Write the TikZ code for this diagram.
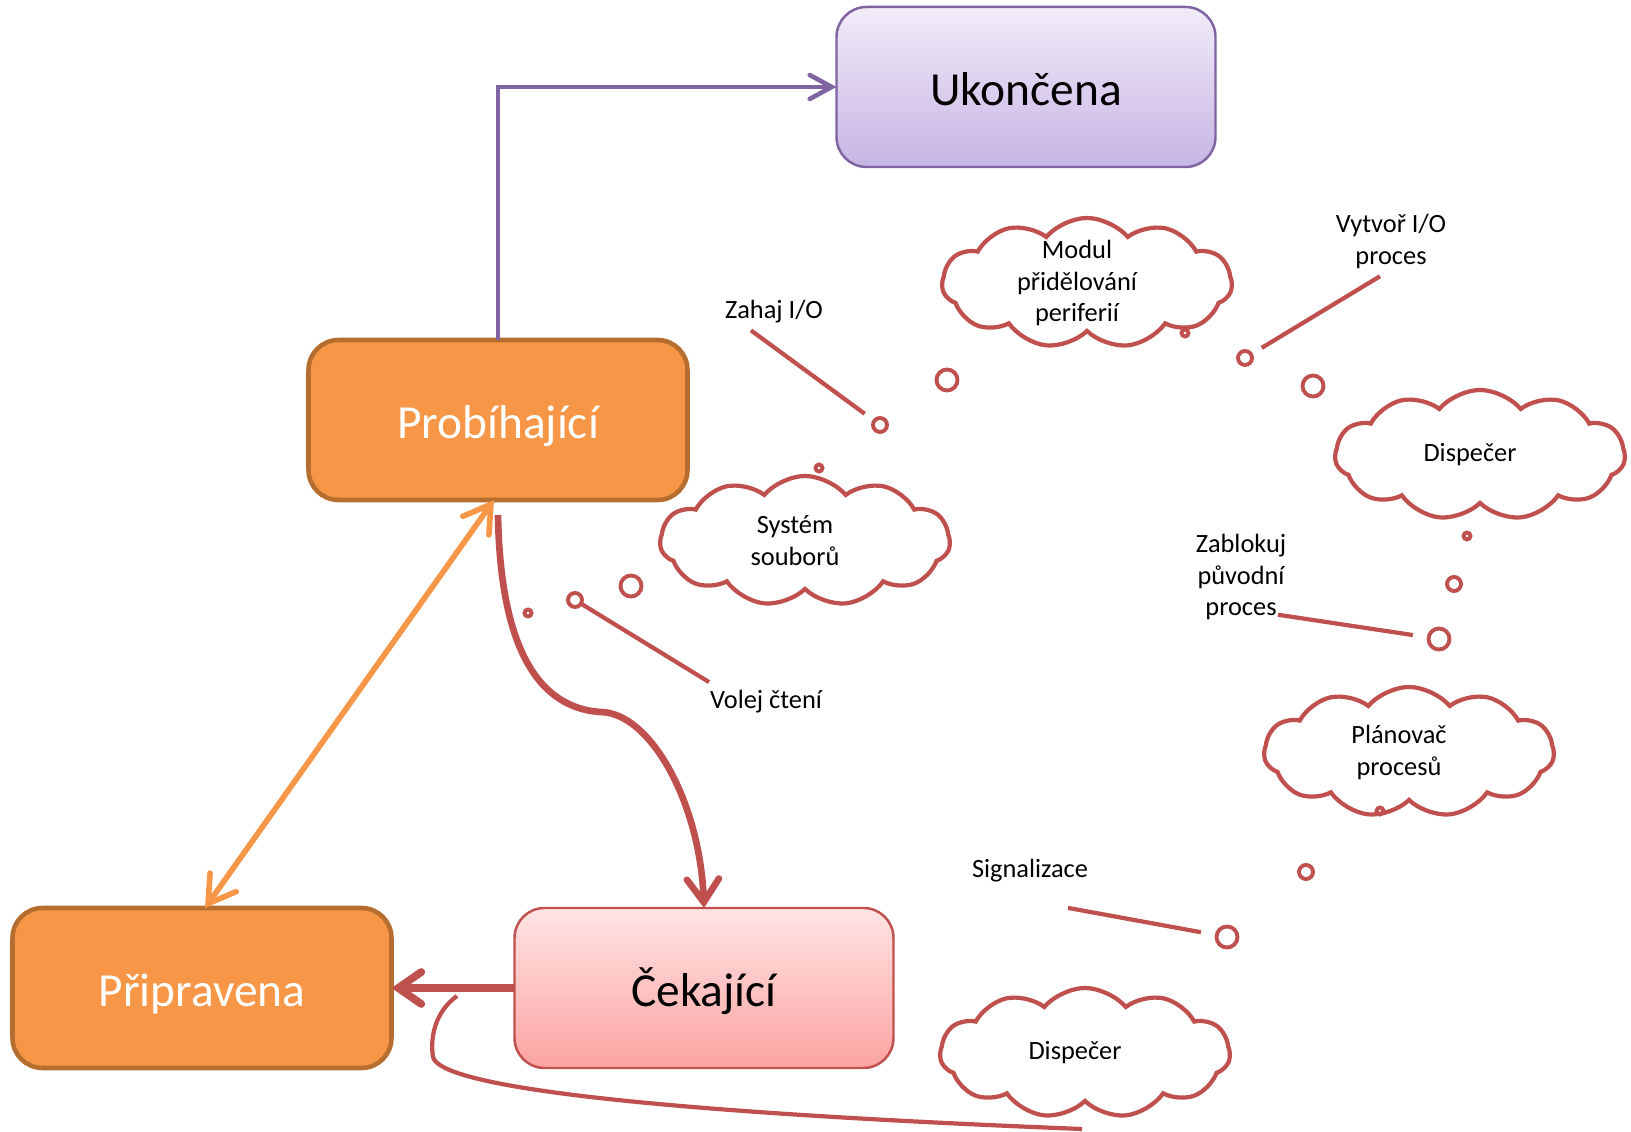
\documentclass[tikz,border=0pt]{standalone}
\usepackage{fontspec}
\setmainfont{Carlito}
\usetikzlibrary{arrows.meta,shapes.symbols}
\definecolor{ppred}{RGB}{192,80,77}
\definecolor{pppurple}{RGB}{128,100,162}
\definecolor{pporange}{RGB}{247,150,70}
\definecolor{pporangedark}{RGB}{182,110,48}
\definecolor{lilactop}{RGB}{241,236,249}
\definecolor{lilacbot}{RGB}{199,181,228}
\definecolor{pinktop}{RGB}{255,228,228}
\definecolor{pinkbot}{RGB}{251,163,161}
\newcommand{\statefont}{\fontsize{13.5}{16}\selectfont}
\newcommand{\notefont}{\fontsize{7.5}{9.1}\selectfont}
\begin{document}
\begin{tikzpicture}[inner sep=0pt,outer sep=0pt,
statebox/.style={draw,rectangle,rounded corners=3mm,minimum width=3.79cm,minimum height=1.6cm,font=\statefont,text height=11pt,text depth=0.7pt},
runbox/.style={statebox,fill=pporange,draw=pporangedark,line width=1.3pt,text=white},
endbox/.style={statebox,top color=lilactop,bottom color=lilacbot,draw=pppurple,line width=0.7pt},
waitbox/.style={statebox,top color=pinktop,bottom color=pinkbot,draw=ppred,line width=0.7pt},
thought/.style={cloud,draw=ppred,line width=1.2pt,fill=white,cloud puffs=11,cloud puff arc=100,aspect=2.2,minimum width=2.9cm,minimum height=1.3cm},
tinyb/.style={circle,draw=ppred,line width=1.1pt,minimum size=0.7mm},
midb/.style={circle,draw=ppred,line width=1.1pt,minimum size=1.4mm},
bigb/.style={circle,draw=ppred,line width=1.1pt,minimum size=2.1mm},
tag/.style={font=\notefont,align=center},
tail/.style={ppred,line width=1.2pt},
barb/.style={-{Straight Barb[length=2.3mm,width=3.2mm,line cap=round]}}]
\useasboundingbox (0,0) rectangle (16.31,11.32);
% states
\draw (10.26,10.45) node[endbox] (uk) {Ukončena};
\draw (4.98,7.12) node[runbox] (prob) {Probíhající};
\draw (2.02,1.44) node[runbox] (prip) {Připravena};
\draw (7.04,1.44) node[waitbox] (cek) {Čekající};
% transitions
\draw[pppurple,line width=1.3pt,-{Straight Barb[length=2.2mm,width=2.4mm,line cap=round]}] (prob.90) |- (uk.180);
\draw[pporange,line width=1.6pt,{Straight Barb[length=2.6mm,width=3.2mm,line cap=round]}-{Straight Barb[length=2.6mm,width=3.2mm,line cap=round]}] ([xshift=-0.4mm]prob.270) -- ([xshift=0.3mm]prip.90);
\draw[ppred,line width=1.9pt,barb] ([yshift=-1.5mm]prob.270) .. controls (5.0,5.0) and (5.3,4.25) .. (6.0,4.2) .. controls (6.5,4.2) and (7.0,3.3) .. (cek.90);
\draw[ppred,line width=2.2pt,barb] (cek.180) -- (prip.0);
\coordinate (hook) at (4.57,1.36);
\coordinate (hookend) at (10.82,0.03);
\draw[ppred,line width=1.2pt] (hook) .. controls (4.35,1.2) and (4.3,0.95) .. (4.33,0.75) .. controls (4.4,0.45) and (6.5,0.2) .. (hookend);
% clouds
\draw (10.87,8.49) node[thought,label={[tag,xshift=-1mm]center:Modul\\přidělování\\periferií}] (modul) {};
\draw (8.05,5.91) node[thought,label={[tag,xshift=-1mm]center:Systém\\souborů}] (sys) {};
\draw (14.80,6.77) node[thought,label={[tag,xshift=-1mm]center:Dispečer}] (disp1) {};
\draw (14.09,3.80) node[thought,label={[tag,xshift=-1mm]center:Plánovač\\procesů}] (plan) {};
\draw (10.85,0.79) node[thought,label={[tag,xshift=-1mm]center:Dispečer}] (disp2) {};
% bubbles
\draw (6.31,5.46) node[bigb] (sysb3) {};
\draw (5.75,5.32) node[midb] (sysb2) {};
\draw (5.28,5.19) node[tinyb] (sysb1) {};
\draw (9.47,7.52) node[bigb] (modb3) {};
\draw (8.80,7.07) node[midb] (modb2) {};
\draw (8.19,6.64) node[tinyb] (modb1) {};
\draw (13.13,7.46) node[bigb] (d1b3) {};
\draw (12.45,7.74) node[midb] (d1b2) {};
\draw (11.85,7.99) node[tinyb] (d1b1) {};
\draw (14.39,4.93) node[bigb] (plb3) {};
\draw (14.54,5.48) node[midb] (plb2) {};
\draw (14.67,5.96) node[tinyb] (plb1) {};
\draw (12.27,1.95) node[bigb] (d2b3) {};
\draw (13.06,2.60) node[midb] (d2b2) {};
\draw (13.80,3.21) node[tinyb] (d2b1) {};
% notes
\draw (7.74,8.20) node[tag] (zahaj) {Zahaj I/O};
\draw (13.91,8.91) node[tag] (vytvor) {Vytvoř I/O\\proces};
\draw (7.66,4.30) node[tag] (volej) {Volej čtení};
\draw (12.41,5.55) node[tag] (zablok) {Zablokuj\\původní\\proces};
\draw (10.30,2.61) node[tag] (signal) {Signalizace};
\draw[tail,shorten >=1.2mm] ([xshift=-2.3mm,yshift=-0.7mm]zahaj.270) -- (modb2);
\draw[tail,shorten >=1.25mm] ([xshift=-1.1mm,yshift=-0.8mm]vytvor.270) -- (d1b2);
\draw[tail] ([xshift=-0.1mm,yshift=0.85mm]volej.north west) -- (sysb2);
\draw[tail,shorten >=1.6mm] ([xshift=3.7mm,yshift=0.55mm]zablok.270) -- (plb3);
\draw[tail,shorten >=1.6mm] ([xshift=3.8mm,yshift=-2.55mm]signal.270) -- (d2b3);
\end{tikzpicture}
\end{document}
